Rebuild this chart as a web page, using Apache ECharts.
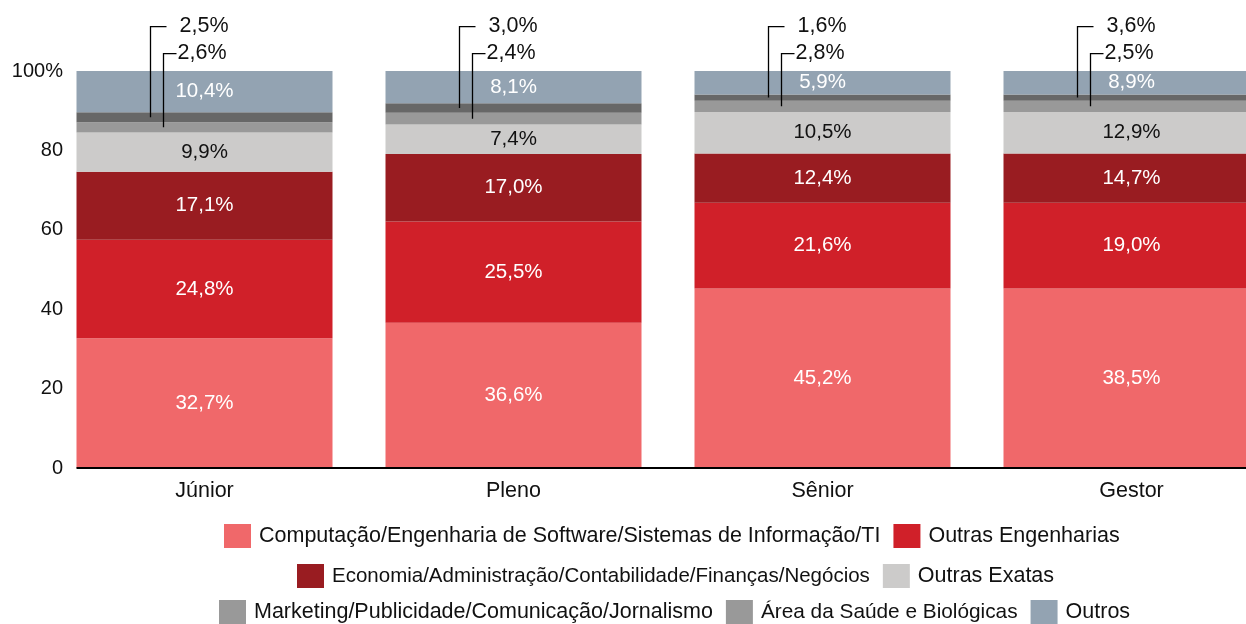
<!DOCTYPE html>
<html>
<head>
<meta charset="utf-8">
<script src="https://cdn.jsdelivr.net/npm/echarts@6/dist/echarts.min.js"></script>
<style>
  html, body { margin: 0; padding: 0; background: #fff; overflow: hidden; }
  #chart { width: 1290px; height: 624px; }
</style>
</head>
<body>
<div id="chart"></div>
<script>
const categories = ["Júnior", "Pleno", "Sênior", "Gestor"];

const seriesNames = [
  "Computação/Engenharia de Software/Sistemas de Informação/TI",
  "Outras Engenharias",
  "Economia/Administração/Contabilidade/Finanças/Negócios",
  "Outras Exatas",
  "Marketing/Publicidade/Comunicação/Jornalismo",
  "Área da Saúde e Biológicas",
  "Outros"
];

// bar heights as drawn (%)
const computacao = [32.7, 36.6, 45.2, 45.2];
const outrasEngenharias = [24.8, 25.5, 21.6, 21.6];
const economia = [17.1, 17.0, 12.4, 12.4];
const outrasExatas = [9.9, 7.4, 10.5, 10.5];
const marketing = [2.6, 3.0, 2.8, 2.8];
const saude = [2.5, 2.4, 1.6, 1.6];
const outros = [10.4, 8.1, 5.9, 5.9];

// printed labels (%)
const computacaoLabels = [32.7, 36.6, 45.2, 38.5];
const outrasEngenhariasLabels = [24.8, 25.5, 21.6, 19.0];
const economiaLabels = [17.1, 17.0, 12.4, 14.7];
const outrasExatasLabels = [9.9, 7.4, 10.5, 12.9];
const marketingLabels = [2.6, 2.4, 2.8, 2.5];
const saudeLabels = [2.5, 3.0, 1.6, 3.6];
const outrosLabels = [10.4, 8.1, 5.9, 8.9];

const yTicks = [0, 20, 40, 60, 80, 100];

const colors = ["#F0686A", "#D02029", "#991C21", "#CCCBCA", "#999999", "#676767", "#93A3B2"];
const FONT = "'Liberation Sans', Arial, sans-serif";
const BAR_W = 256;

const pct = v => v.toFixed(1).replace(".", ",") + "%";

const values = [computacao, outrasEngenharias, economia, outrasExatas, marketing, saude, outros];
const labels = [computacaoLabels, outrasEngenhariasLabels, economiaLabels, outrasExatasLabels, null, null, outrosLabels];
const labelColors = ["#fff", "#fff", "#fff", "#111", null, null, "#fff"];

const barSeries = seriesNames.map((name, s) => ({
  name,
  type: "bar",
  stack: "total",
  barWidth: BAR_W,
  data: values[s],
  itemStyle: { color: colors[s] },
  label: labels[s]
    ? {
        show: true,
        position: "inside",
        color: labelColors[s],
        fontFamily: FONT,
        fontSize: 20.5,
        formatter: p => pct(labels[s][p.dataIndex])
      }
    : { show: false }
}));

// callouts for the two thin grey bands
const calloutData = categories.map((c, i) => {
  const base = computacao[i] + outrasEngenharias[i] + economia[i] + outrasExatas[i];
  return [i, base + marketing[i] + saude[i] / 2, base + marketing[i] / 2];
});

const calloutSeries = {
  type: "custom",
  coordinateSystem: "cartesian2d",
  clip: false,
  silent: true,
  z: 5,
  encode: { x: 0, y: 1 },
  data: calloutData,
  renderItem: (params, api) => {
    const i = api.value(0);
    const up = api.coord([i, api.value(1)]);
    const low = api.coord([i, api.value(2)]);
    const cx = up[0];
    const yUp = api.coord([i, 111.2])[1];
    const yLow = api.coord([i, 104.4])[1];
    const line = { stroke: "#000", lineWidth: 1.3, fill: null };
    const txt = (x, y, t) => ({
      type: "text",
      style: { x, y, text: t, fill: "#111", font: "21.5px " + FONT, textAlign: "left", textVerticalAlign: "middle" }
    });
    return {
      type: "group",
      children: [
        { type: "polyline", shape: { points: [[cx - 54, up[1]], [cx - 54, yUp], [cx - 38, yUp]] }, style: line },
        txt(cx - 25, yUp, pct(saudeLabels[i])),
        { type: "polyline", shape: { points: [[cx - 41, low[1]], [cx - 41, yLow], [cx - 28, yLow]] }, style: line },
        txt(cx - 27, yLow, pct(marketingLabels[i]))
      ]
    };
  }
};

const legendBase = {
  padding: 0,
  itemWidth: 27,
  itemHeight: 24,
  itemGap: 13,
  icon: "rect",
  textStyle: { fontFamily: FONT, fontSize: 21.5, color: "#111", padding: [0, 0, 0, 3] },
  selectedMode: false
};

const option = {
  animation: false,
  grid: { left: 50, right: 4, top: 71, bottom: 156 },
  xAxis: {
    type: "category",
    data: categories,
    axisLine: { show: false },
    axisTick: { show: false },
    axisLabel: { fontFamily: FONT, fontSize: 21.5, color: "#111", margin: 12 }
  },
  yAxis: {
    type: "value",
    min: 0,
    max: 100,
    interval: 20,
    splitLine: { show: false },
    axisLine: { show: false },
    axisTick: { show: false },
    axisLabel: {
      fontFamily: FONT,
      fontSize: 20,
      color: "#111",
      margin: -13,
      formatter: v => (yTicks.includes(v) ? (v === 100 ? "100%" : String(v)) : "")
    }
  },
  legend: [
    { ...legendBase, left: 224, top: 524, data: [seriesNames[0], seriesNames[1]] },
    {
      ...legendBase,
      left: 297,
      top: 564,
      data: [{ name: seriesNames[2], textStyle: { fontSize: 20.5 } }, seriesNames[3]]
    },
    {
      ...legendBase,
      left: 219,
      top: 600,
      data: [
        seriesNames[4],
        { name: seriesNames[5], itemStyle: { color: "#999999" }, textStyle: { fontSize: 20.8 } },
        seriesNames[6]
      ]
    }
  ],
  series: [...barSeries, calloutSeries]
};

const chart = echarts.init(document.getElementById("chart"));
chart.setOption(option);

// baseline starts at the first bar's left edge
const origin = chart.convertToPixel({ gridIndex: 0 }, [0, 0]);
chart.setOption({
  graphic: [
    {
      type: "line",
      z: 100,
      shape: { x1: origin[0] - BAR_W / 2, y1: origin[1], x2: chart.getWidth(), y2: origin[1] },
      style: { stroke: "#000", lineWidth: 2 }
    }
  ]
});
</script>
</body>
</html>
